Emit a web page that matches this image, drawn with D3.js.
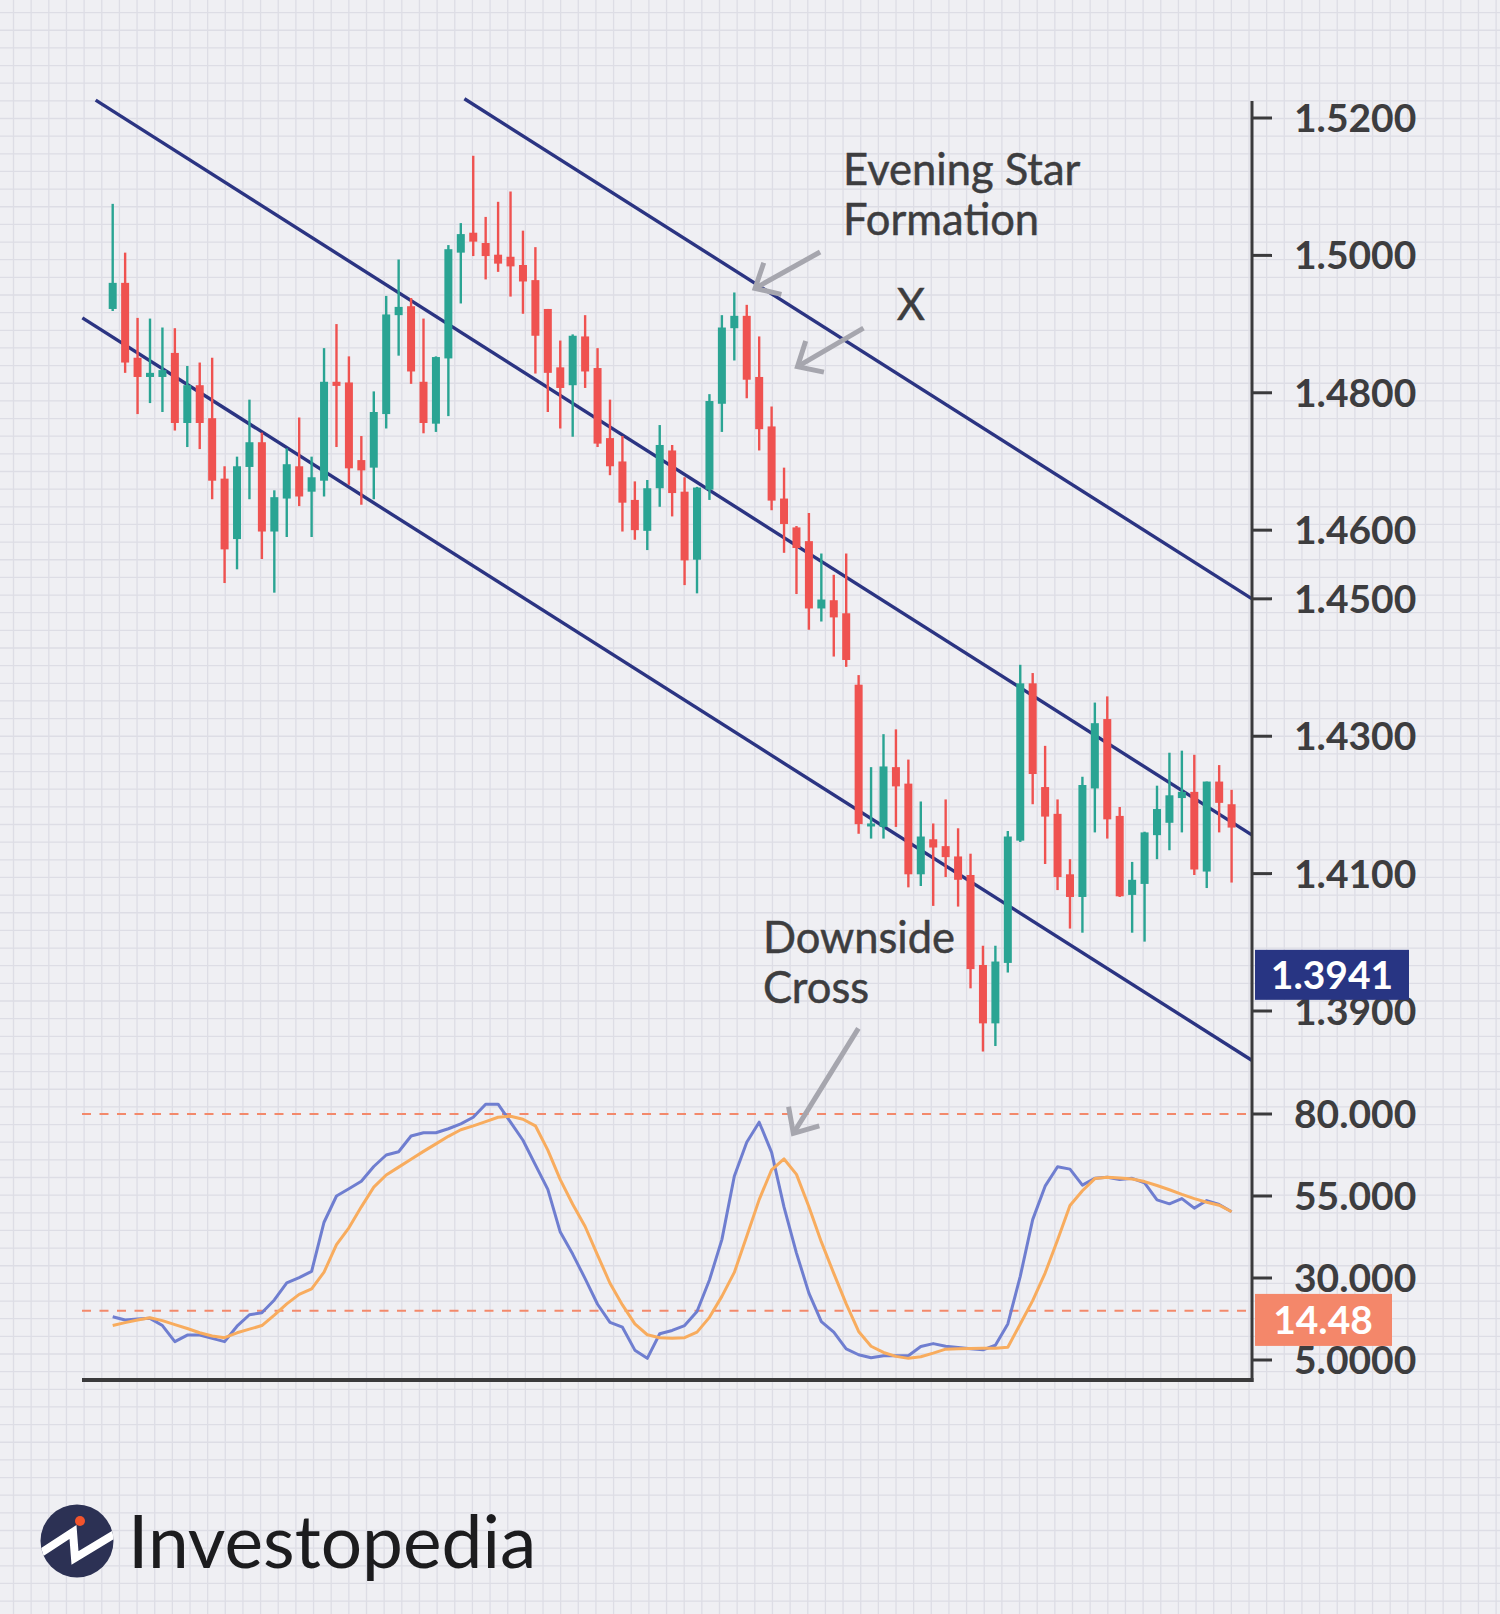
<!DOCTYPE html>
<html>
<head>
<meta charset="utf-8">
<script src="https://cdn.jsdelivr.net/npm/d3@7"></script>
<style>
  html, body { margin: 0; padding: 0; background: #efeff3; }
  svg { display: block; }
  text { font-family: Lato, "Noto Sans", sans-serif; }
</style>
</head>
<body>
<svg id="chart" width="1500" height="1614"></svg>
<script>
// ---- Price data, one entry per session ----
const opens = [
  1.4922, 1.4960, 1.4851, 1.4823, 1.4823, 1.4858, 1.4756, 1.4811, 1.4763, 1.4675,
  1.4587, 1.4692, 1.4728, 1.4598, 1.4646, 1.4693, 1.4656, 1.4672, 1.4816, 1.4815,
  1.4702, 1.4691, 1.4769, 1.4913, 1.4926, 1.4816, 1.4755, 1.4850, 1.5004, 1.5033,
  1.5018, 1.5001, 1.4998, 1.4986, 1.4964, 1.4922, 1.4837, 1.4811, 1.4882, 1.4836,
  1.4734, 1.4700, 1.4644, 1.4599, 1.4661, 1.4716, 1.4656, 1.4557, 1.4659, 1.4784,
  1.4894, 1.4912, 1.4823, 1.4751, 1.4646, 1.4604, 1.4584, 1.4486, 1.4498, 1.4479,
  1.4375, 1.4170, 1.4168, 1.4255, 1.4231, 1.4099, 1.4150, 1.4140, 1.4125, 1.4098,
  1.3967, 1.3882, 1.3970, 1.4148, 1.4377, 1.4226, 1.4187, 1.4099, 1.4066, 1.4224,
  1.4325, 1.4184, 1.4069, 1.4085, 1.4156, 1.4174, 1.4210, 1.4219, 1.4103, 1.4234,
  1.4201
];
const highs = [
  1.5075, 1.5004, 1.4909, 1.4908, 1.4895, 1.4894, 1.4839, 1.4844, 1.4851, 1.4693,
  1.4707, 1.4790, 1.4742, 1.4658, 1.4719, 1.4764, 1.4707, 1.4865, 1.4900, 1.4853,
  1.4737, 1.4802, 1.4941, 1.4994, 1.4938, 1.4908, 1.4853, 1.5015, 1.5047, 1.5145,
  1.5056, 1.5078, 1.5093, 1.5036, 1.5012, 1.4922, 1.4876, 1.4885, 1.4913, 1.4865,
  1.4790, 1.4737, 1.4671, 1.4673, 1.4753, 1.4724, 1.4677, 1.4663, 1.4798, 1.4913,
  1.4946, 1.4928, 1.4882, 1.4780, 1.4691, 1.4606, 1.4625, 1.4566, 1.4535, 1.4566,
  1.4389, 1.4255, 1.4303, 1.4310, 1.4266, 1.4205, 1.4173, 1.4208, 1.4166, 1.4129,
  1.3995, 1.3995, 1.4162, 1.4404, 1.4392, 1.4286, 1.4208, 1.4121, 1.4241, 1.4349,
  1.4358, 1.4197, 1.4117, 1.4161, 1.4228, 1.4276, 1.4279, 1.4273, 1.4234, 1.4258,
  1.4222
];
const lows = [
  1.4919, 1.4829, 1.4769, 1.4785, 1.4772, 1.4745, 1.4721, 1.4718, 1.4645, 1.4523,
  1.4543, 1.4645, 1.4558, 1.4509, 1.4590, 1.4635, 1.4590, 1.4649, 1.4721, 1.4666,
  1.4637, 1.4645, 1.4748, 1.4854, 1.4813, 1.4741, 1.4743, 1.4766, 1.4930, 1.4999,
  1.4965, 1.4976, 1.4940, 1.4915, 1.4828, 1.4772, 1.4748, 1.4736, 1.4807, 1.4721,
  1.4680, 1.4598, 1.4586, 1.4571, 1.4634, 1.4620, 1.4520, 1.4508, 1.4644, 1.4743,
  1.4847, 1.4792, 1.4716, 1.4629, 1.4567, 1.4507, 1.4455, 1.4467, 1.4416, 1.4401,
  1.4158, 1.4151, 1.4151, 1.4168, 1.4080, 1.4082, 1.4053, 1.4095, 1.4052, 1.3933,
  1.3841, 1.3849, 1.3956, 1.4146, 1.4201, 1.4114, 1.4076, 1.4020, 1.4014, 1.4160,
  1.4151, 1.4066, 1.4014, 1.4001, 1.4121, 1.4134, 1.4160, 1.4098, 1.4079, 1.4160,
  1.4087
];
const closes = [
  1.4960, 1.4844, 1.4823, 1.4829, 1.4833, 1.4756, 1.4811, 1.4756, 1.4672, 1.4572,
  1.4693, 1.4728, 1.4598, 1.4648, 1.4696, 1.4649, 1.4677, 1.4816, 1.4810, 1.4690,
  1.4687, 1.4772, 1.4914, 1.4925, 1.4831, 1.4756, 1.4852, 1.5009, 1.5031, 1.5020,
  1.4999, 1.4988, 1.4984, 1.4962, 1.4883, 1.4829, 1.4807, 1.4883, 1.4831, 1.4726,
  1.4693, 1.4640, 1.4600, 1.4661, 1.4724, 1.4654, 1.4556, 1.4662, 1.4788, 1.4895,
  1.4912, 1.4819, 1.4747, 1.4643, 1.4609, 1.4574, 1.4486, 1.4499, 1.4473, 1.4411,
  1.4172, 1.4173, 1.4256, 1.4227, 1.4099, 1.4154, 1.4138, 1.4124, 1.4091, 1.3961,
  1.3882, 1.3972, 1.4154, 1.4377, 1.4245, 1.4183, 1.4095, 1.4066, 1.4229, 1.4319,
  1.4179, 1.4067, 1.4091, 1.4160, 1.4194, 1.4214, 1.4219, 1.4106, 1.4234, 1.4203,
  1.4167
];

// ---- Stochastic oscillator (%K fast, %D signal) ----
const stochK = [
  18.2, 17.2, 17.5, 17.7, 15.5, 10.6, 12.6, 12.6, 11.6, 10.6,
  15.3, 18.8, 19.4, 23.3, 28.5, 30.1, 32.0, 47.0, 55.0, 57.2,
  59.5, 64.0, 67.5, 68.5, 73.3, 74.3, 74.3, 75.5, 77.0, 79.0,
  83.0, 83.0, 77.5, 72.0, 64.5, 57.0, 44.0, 37.3, 29.8, 22.0,
  16.5, 15.0, 8.0, 5.5, 13.0, 14.0, 15.5, 19.8, 29.4, 41.7,
  61.0, 71.4, 77.5, 68.3, 51.6, 37.6, 25.4, 16.7, 13.5, 8.4,
  6.6, 5.7, 6.3, 6.3, 6.3, 9.1, 10.0, 9.2, 8.8, 8.4,
  8.1, 9.5, 16.0, 30.5, 47.8, 58.0, 63.9, 63.2, 58.3, 60.4,
  60.7, 60.0, 60.4, 59.0, 53.8, 52.6, 54.2, 51.3, 53.6, 52.4,
  50.2
];
const stochD = [
  15.5, 16.4, 17.2, 17.9, 17.0, 15.8, 14.6, 13.3, 12.3, 11.8,
  13.3, 14.4, 15.5, 18.7, 22.1, 25.0, 26.7, 31.8, 40.2, 45.3,
  51.7, 57.7, 61.4, 63.8, 66.2, 68.6, 70.9, 73.2, 75.2, 76.4,
  77.7, 79.0, 79.3, 78.4, 76.4, 69.0, 60.0, 52.5, 45.7, 37.0,
  28.4, 21.8, 16.0, 12.7, 11.8, 11.6, 11.8, 13.5, 18.0, 24.4,
  31.7, 42.7, 53.9, 63.0, 66.3, 61.6, 51.7, 41.0, 31.4, 22.1,
  13.7, 9.2, 7.3, 6.1, 5.5, 6.0, 7.1, 8.3, 8.4, 8.5,
  8.6, 8.6, 8.9, 16.0, 23.1, 31.5, 41.6, 52.1, 56.6, 60.3,
  60.7, 60.5, 60.2, 59.4, 58.2, 56.9, 55.5, 54.2, 53.1, 52.2,
  50.2
];

// ---- Axis ticks ----
const priceTicks = [1.52, 1.50, 1.48, 1.46, 1.45, 1.43, 1.41, 1.39];
const priceTickLabels = ["1.5200", "1.5000", "1.4800", "1.4600", "1.4500", "1.4300", "1.4100", "1.3900"];
const oscTicks = [80, 55, 30, 5];
const oscTickLabels = ["80.000", "55.000", "30.000", "5.0000"];
const oscLevels = [80, 20];

// ---- Descending channel lines (session index, price) ----
const channelStartIdx   = [28.29, -1.37, -2.44];
const channelStartPrice = [1.5228, 1.5226, 1.4909];
const channelEndIdx     = [91.65, 91.65, 91.65];
const channelEndPrice   = [1.4500, 1.4156, 1.3828];

// ---- Current value tags ----
const lastPriceTag = "1.3941";
const lastOscTag = "14.48";

// ---------------------------------------------------------------
const W = 1500, H = 1614;
const svg = d3.select("#chart");

const C = {
  bg: "#efeff3", grid: "#dddde5", up: "#2aa493", down: "#ef5250",
  channel: "#2b3482", axis: "#3a3a3c", text: "#3d3d3f",
  k: "#6f7ed0", d: "#f8ac5e", level: "#f3896b", arrow: "#a6a6ae",
  tagBlue: "#283583", tagOrange: "#f4876a"
};

svg.append("rect").attr("width", W).attr("height", H).attr("fill", C.bg);

// background grid
const gridStep = 17.65;
const grid = svg.append("g").attr("stroke", C.grid).attr("stroke-width", 1.3);
grid.selectAll("line.v").data(d3.range(13.5, W, gridStep)).join("line")
  .attr("x1", d => d).attr("x2", d => d).attr("y1", 0).attr("y2", H);
grid.selectAll("line.h").data(d3.range(12.6, H, gridStep)).join("line")
  .attr("y1", d => d).attr("y2", d => d).attr("x1", 0).attr("x2", W);

// scales
const axisX = 1252;
const x = d3.scaleLinear().domain([0, opens.length - 1]).range([112.7, 1231.6]);
const yPrice = d3.scaleLinear().domain([1.39, 1.52]).range([1011, 118]);
const yOsc = d3.scaleLinear().domain([5, 80]).range([1360, 1114]);

// channel lines
const chan = svg.append("g");
channelStartIdx.forEach((s, i) => {
  chan.append("line")
    .attr("x1", x(s)).attr("y1", yPrice(channelStartPrice[i]))
    .attr("x2", x(channelEndIdx[i])).attr("y2", yPrice(channelEndPrice[i]))
    .attr("stroke", C.channel).attr("stroke-width", 3.4);
});

// candlesticks
const candles = svg.append("g").selectAll("g").data(opens.map((o, i) => ({
  i, o, h: highs[i], l: lows[i], c: closes[i]
}))).join("g").attr("fill", d => d.c >= d.o ? C.up : C.down)
  .attr("stroke", d => d.c >= d.o ? C.up : C.down);

candles.append("line")
  .attr("x1", d => x(d.i)).attr("x2", d => x(d.i))
  .attr("y1", d => yPrice(d.h)).attr("y2", d => yPrice(d.l))
  .attr("stroke-width", 2.4);
const bodyW = 8;
candles.append("rect")
  .attr("stroke", "none")
  .attr("x", d => x(d.i) - bodyW / 2).attr("width", bodyW)
  .attr("y", d => yPrice(Math.max(d.o, d.c)))
  .attr("height", d => Math.max(3, Math.abs(yPrice(d.o) - yPrice(d.c))));

// oscillator level lines
svg.append("g").selectAll("line").data(oscLevels).join("line")
  .attr("x1", 82).attr("x2", axisX)
  .attr("y1", d => yOsc(d)).attr("y2", d => yOsc(d))
  .attr("stroke", C.level).attr("stroke-width", 2).attr("stroke-dasharray", "9 8.5");

// oscillator lines
const lineGen = d3.line().x((d, i) => x(i)).y(d => yOsc(d));
svg.append("path").datum(stochK).attr("d", lineGen)
  .attr("fill", "none").attr("stroke", C.k).attr("stroke-width", 3).attr("stroke-linejoin", "round");
svg.append("path").datum(stochD).attr("d", lineGen)
  .attr("fill", "none").attr("stroke", C.d).attr("stroke-width", 3).attr("stroke-linejoin", "round");

// axes
const axes = svg.append("g").attr("stroke", C.axis);
axes.append("line").attr("x1", axisX).attr("x2", axisX).attr("y1", 101).attr("y2", 1382)
  .attr("stroke-width", 3);
axes.append("line").attr("x1", 82).attr("x2", axisX + 1.5).attr("y1", 1380).attr("y2", 1380)
  .attr("stroke-width", 4);
const tickYs = priceTicks.map(v => yPrice(v)).concat(oscTicks.map(v => yOsc(v)));
const tickLabels = priceTickLabels.concat(oscTickLabels);
axes.selectAll("line.tick").data(tickYs).join("line")
  .attr("x1", axisX).attr("x2", axisX + 20).attr("y1", d => d).attr("y2", d => d)
  .attr("stroke-width", 3);
svg.append("g").selectAll("text").data(tickYs).join("text")
  .attr("x", 1294).attr("y", d => d).attr("dy", "0.36em")
  .attr("font-size", 39).attr("font-weight", 700).attr("fill", C.text)
  .text((d, i) => tickLabels[i]);

// current value tags (drawn over the axis labels they sit on)
const tagPrice = +lastPriceTag;
const tagOsc = +lastOscTag;
const tp = svg.append("g");
tp.append("rect").attr("x", 1255).attr("y", yPrice(tagPrice) - 33).attr("width", 154).attr("height", 50)
  .attr("fill", C.tagBlue);
tp.append("text").attr("x", 1332).attr("y", yPrice(tagPrice) - 8).attr("dy", "0.36em")
  .attr("text-anchor", "middle").attr("font-size", 39).attr("font-weight", 700).attr("fill", "#fff")
  .text(lastPriceTag);
const to = svg.append("g");
to.append("rect").attr("x", 1255).attr("y", yOsc(tagOsc) - 35).attr("width", 137).attr("height", 52)
  .attr("fill", C.tagOrange);
to.append("text").attr("x", 1323).attr("y", yOsc(tagOsc) - 9).attr("dy", "0.36em")
  .attr("text-anchor", "middle").attr("font-size", 39).attr("font-weight", 700).attr("fill", "#fff")
  .text(lastOscTag);

// annotations
function arrow(tipIdx, tipY, tailIdx, tailY) {
  const x1 = x(tailIdx), y1 = tailY, x2 = x(tipIdx), y2 = tipY;
  const ang = Math.atan2(y1 - y2, x1 - x2), len = 27, spread = 42 * Math.PI / 180;
  const g = svg.append("g").attr("stroke", C.arrow).attr("stroke-width", 5).attr("fill", "none");
  g.append("line").attr("x1", x1).attr("y1", y1).attr("x2", x2).attr("y2", y2);
  g.append("path").attr("d", d3.line()([
    [x2 + len * Math.cos(ang - spread), y2 + len * Math.sin(ang - spread)],
    [x2, y2],
    [x2 + len * Math.cos(ang + spread), y2 + len * Math.sin(ang + spread)]
  ]));
}
const note = (txt, xi, y, anchor) => svg.append("text").attr("x", x(xi)).attr("y", y)
  .attr("text-anchor", anchor || "start").attr("font-size", 43.5).attr("font-weight", 400)
  .attr("fill", C.text).attr("stroke", C.text).attr("stroke-width", 0.5).text(txt);

note("Evening Star", 58.75, yPrice(1.5103));
note("Formation", 58.75, yPrice(1.5030));
note("X", 64.2, yPrice(1.4906), "middle");
note("Downside", 52.3, yPrice(1.3984));
note("Cross", 52.3, yPrice(1.3912));
arrow(51.67, yPrice(1.4952), 56.9, yPrice(1.5005));
arrow(55.08, yPrice(1.4838), 60.39, yPrice(1.4894));
arrow(54.75, yOsc(74.1), 59.98, yOsc(106.1));

// brand mark
const logo = svg.append("g");
logo.append("clipPath").attr("id", "logoClip").append("circle").attr("cx", 77).attr("cy", 1541).attr("r", 36.5);
logo.append("circle").attr("cx", 77).attr("cy", 1541).attr("r", 36.5).attr("fill", "#2c3154");
logo.append("path").attr("clip-path", "url(#logoClip)")
  .attr("d", "M36,1556 L73,1532 L75,1558 L118,1532")
  .attr("fill", "none").attr("stroke", "#fff").attr("stroke-width", 8).attr("stroke-linejoin", "miter");
logo.append("circle").attr("cx", 80).attr("cy", 1521).attr("r", 5).attr("fill", "#f2542d");
logo.append("text").attr("x", 128).attr("y", 1568).attr("font-size", 73).attr("font-weight", 400)
  .attr("fill", "#1c1c1e").text("Investopedia");
</script>
</body>
</html>
